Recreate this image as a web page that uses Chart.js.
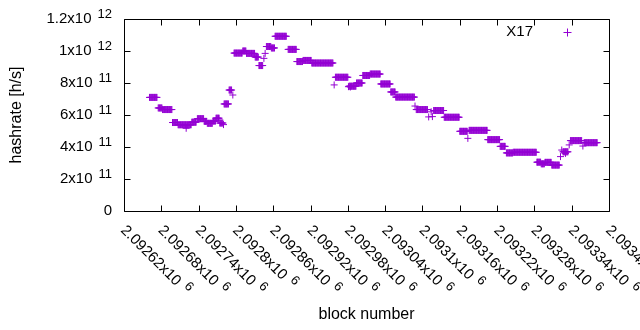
<!DOCTYPE html>
<html>
<head>
<meta charset="utf-8">
<script src="https://cdn.jsdelivr.net/npm/chart.js@4.4.1/dist/chart.umd.min.js"></script>
<style>
  html, body { margin: 0; padding: 0; background: #fff; }
  canvas { display: block; }
</style>
</head>
<body>
<canvas id="chart" width="640" height="330"></canvas>
<script>
const seriesName = 'X17';

// runs of blocks that share one hashrate value
const runFirst = [2092661, 2092675, 2092682, 2092698, 2092707, 2092729, 2092738, 2092749, 2092754, 2092763,
                  2092768, 2092774, 2092781, 2092789, 2092797, 2092811, 2092817, 2092831, 2092837, 2092849,
                  2092857, 2092863, 2092884, 2092898, 2092908, 2092922, 2092960, 2092982, 2092994, 2093004,
                  2093016, 2093033, 2093049, 2093057, 2093090, 2093118, 2093135, 2093160, 2093175, 2093205,
                  2093225, 2093235, 2093246, 2093284, 2093291, 2093297, 2093308, 2093326, 2093338, 2093360];
const runLast  = [2092673, 2092681, 2092697, 2092706, 2092728, 2092736, 2092748, 2092753, 2092762, 2092767,
                  2092773, 2092779, 2092788, 2092793, 2092810, 2092816, 2092830, 2092836, 2092843, 2092856,
                  2092862, 2092881, 2092897, 2092907, 2092921, 2092956, 2092980, 2092993, 2093003, 2093015,
                  2093032, 2093048, 2093056, 2093087, 2093108, 2093134, 2093159, 2093172, 2093204, 2093224,
                  2093233, 2093245, 2093283, 2093290, 2093296, 2093307, 2093320, 2093334, 2093356, 2093381];
const runRate  = [7.10e11, 6.44e11, 6.34e11, 5.53e11, 5.39e11, 5.55e11, 5.77e11, 5.60e11, 5.48e11, 5.62e11,
                  5.80e11, 5.50e11, 6.69e11, 7.56e11, 9.87e11, 1.000e12, 9.85e11, 9.62e11, 9.09e11, 1.028e12,
                  1.019e12, 1.092e12, 1.010e12, 9.34e11, 9.41e11, 9.25e11, 8.36e11, 7.80e11, 8.00e11, 8.47e11,
                  8.56e11, 7.94e11, 7.44e11, 7.12e11, 6.34e11, 6.28e11, 5.86e11, 4.98e11, 5.04e11, 4.46e11,
                  4.04e11, 3.63e11, 3.67e11, 3.05e11, 2.95e11, 3.04e11, 2.87e11, 3.70e11, 4.40e11, 4.27e11];

// single blocks off the runs
const strayBlock = [2092720, 2092780, 2092795, 2092845, 2092847, 2092958, 2092981, 2092984, 2093088, 2093110,
                    2093114, 2093116, 2093173, 2093322, 2093324, 2093330, 2093336, 2093358];
const strayRate  = [5.17e11, 5.40e11, 7.25e11, 9.54e11, 9.85e11, 7.88e11, 7.77e11, 7.75e11, 6.56e11, 5.88e11,
                    6.20e11, 5.90e11, 4.54e11, 3.40e11, 3.81e11, 3.60e11, 4.13e11, 4.06e11];

const xTickValues = [2092620, 2092680, 2092740, 2092800, 2092860, 2092920, 2092980,
                     2093040, 2093100, 2093160, 2093220, 2093280, 2093340, 2093400];
const yTickValues = [0, 2e11, 4e11, 6e11, 8e11, 1e12, 1.2e12];

const PURPLE = '#9400d3';
const FONT = '"Liberation Sans", Arial, sans-serif';
const TICK_PX = 15;
const EXP_PX = 13;

let points = [];
for (let i = 0; i < runFirst.length; i++) {
  for (let b = runFirst[i]; b <= runLast[i]; b++) {
    points.push({x: b, y: runRate[i]});
  }
}
strayBlock.forEach((b, i) => points.push({x: b, y: strayRate[i]}));

// mantissa / exponent for gnuplot style "2x10^11"
function sciY(v) {
  if (v === 0) return {mant: '0', exp: null};
  const e = Math.floor(Math.log10(v) + 1e-9);
  return {mant: (+(v / Math.pow(10, e)).toFixed(1)) + 'x10', exp: String(e)};
}
function sciX(v) {
  return {mant: (+(v / 1e6).toFixed(5)) + 'x10', exp: '6'};
}

function drawSci(ctx, parts, x, y, alignRight) {
  const gap = 6, raise = 5;
  ctx.font = TICK_PX + 'px ' + FONT;
  const wm = ctx.measureText(parts.mant).width;
  let we = 0;
  if (parts.exp) {
    ctx.font = EXP_PX + 'px ' + FONT;
    we = gap + ctx.measureText(parts.exp).width;
  }
  const x0 = alignRight ? x - wm - we : x;
  ctx.textAlign = 'left';
  ctx.textBaseline = 'middle';
  ctx.font = TICK_PX + 'px ' + FONT;
  ctx.fillText(parts.mant, x0, y);
  if (parts.exp) {
    ctx.font = EXP_PX + 'px ' + FONT;
    ctx.fillText(parts.exp, x0 + wm + gap, y - raise);
  }
}

const frame = {
  id: 'frame',
  beforeDatasetsDraw(chart) {
    const ctx = chart.ctx;
    const a = chart.chartArea;
    const xs = chart.scales.x, ys = chart.scales.y;
    const L = Math.round(a.left) + 0.5, R = Math.round(a.right) + 0.5;
    const T = Math.round(a.top) + 0.5, B = Math.round(a.bottom) + 0.5;
    ctx.save();
    ctx.strokeStyle = '#000';
    ctx.lineWidth = 1;
    ctx.beginPath();
    ctx.rect(L, T, R - L, B - T);
    xs.ticks.forEach(t => {
      const px = Math.round(xs.getPixelForValue(t.value)) + 0.5;
      ctx.moveTo(px, B); ctx.lineTo(px, B - 6);
      ctx.moveTo(px, T); ctx.lineTo(px, T + 6);
    });
    ys.ticks.forEach(t => {
      const py = Math.round(ys.getPixelForValue(t.value)) + 0.5;
      ctx.moveTo(L, py); ctx.lineTo(L + 6, py);
      ctx.moveTo(R, py); ctx.lineTo(R - 6, py);
    });
    ctx.stroke();
    ctx.restore();
  },
  afterDraw(chart) {
    const ctx = chart.ctx;
    const a = chart.chartArea;
    const xs = chart.scales.x, ys = chart.scales.y;
    ctx.save();
    ctx.fillStyle = '#000';
    ys.ticks.forEach(t => {
      drawSci(ctx, sciY(t.value), a.left - 12, ys.getPixelForValue(t.value), true);
    });
    xs.ticks.forEach(t => {
      ctx.save();
      ctx.translate(xs.getPixelForValue(t.value) - 1, a.bottom + 17);
      ctx.rotate(Math.PI / 4);
      drawSci(ctx, sciX(t.value), 0, 0, false);
      ctx.restore();
    });
    // axis titles
    ctx.font = '16px ' + FONT;
    ctx.textAlign = 'center';
    ctx.textBaseline = 'middle';
    ctx.fillText('block number', (a.left + a.right) / 2, 315);
    ctx.save();
    ctx.translate(17, (a.top + a.bottom) / 2);
    ctx.rotate(-Math.PI / 2);
    ctx.fillText('hashrate [h/s]', 0, 0);
    ctx.restore();
    // key
    ctx.font = TICK_PX + 'px ' + FONT;
    ctx.textAlign = 'right';
    ctx.fillText(seriesName, 533, 32);
    ctx.strokeStyle = PURPLE;
    ctx.lineWidth = 1;
    ctx.beginPath();
    ctx.moveTo(563.5, 32.5); ctx.lineTo(571.5, 32.5);
    ctx.moveTo(567.5, 28.5); ctx.lineTo(567.5, 36.5);
    ctx.stroke();
    ctx.restore();
  }
};

new Chart(document.getElementById('chart'), {
  type: 'scatter',
  data: {
    datasets: [{
      label: seriesName,
      data: points,
      pointStyle: 'cross',
      pointRadius: 3.5,
      borderWidth: 1,
      borderColor: PURPLE,
      backgroundColor: PURPLE
    }]
  },
  options: {
    responsive: false,
    animation: false,
    events: [],
    devicePixelRatio: 1,
    layout: { autoPadding: false, padding: { left: 124, top: 19, right: 31, bottom: 119 } },
    plugins: { legend: { display: false }, tooltip: { enabled: false } },
    scales: {
      x: {
        type: 'linear',
        display: false,
        min: xTickValues[0],
        max: xTickValues[xTickValues.length - 1],
        ticks: { autoSkip: false },
        afterBuildTicks: s => { s.ticks = xTickValues.map(v => ({value: v})); }
      },
      y: {
        type: 'linear',
        display: false,
        min: yTickValues[0],
        max: yTickValues[yTickValues.length - 1],
        ticks: { autoSkip: false },
        afterBuildTicks: s => { s.ticks = yTickValues.map(v => ({value: v})); }
      }
    }
  },
  plugins: [frame]
});
</script>
</body>
</html>
